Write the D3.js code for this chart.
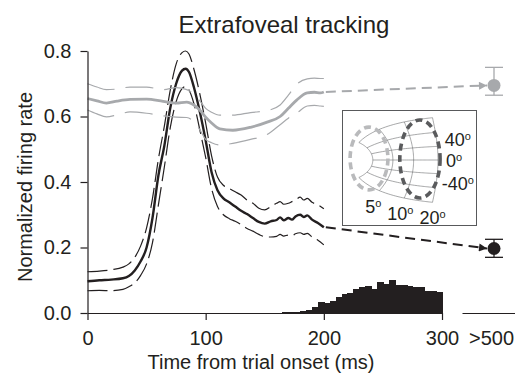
<!DOCTYPE html>
<html>
<head>
<meta charset="utf-8">
<script src="https://cdn.jsdelivr.net/npm/d3@7"></script>
<style>
  body { margin: 0; background: #fff; }
  svg { display: block; font-family: "Liberation Sans", Arial, sans-serif; }
</style>
</head>
<body>
<div id="chart"></div>
<script>
// ---- data ----
// response to the target in the SC response field (black) and away from it (gray)
const blackTime  = [0, 10, 20, 30, 35, 40, 45, 50, 55, 60, 65, 70, 75, 80, 83, 86, 90, 95, 100, 105, 110, 115, 120, 125, 130, 135, 140, 145, 150, 155, 160, 163, 166, 170, 173, 176, 180, 183, 186, 190, 195, 200];
const blackMean  = [0.097, 0.100, 0.102, 0.106, 0.113, 0.130, 0.158, 0.200, 0.290, 0.420, 0.510, 0.625, 0.700, 0.740, 0.746, 0.735, 0.690, 0.615, 0.527, 0.430, 0.375, 0.350, 0.338, 0.325, 0.312, 0.302, 0.290, 0.278, 0.273, 0.280, 0.284, 0.292, 0.283, 0.290, 0.285, 0.295, 0.300, 0.293, 0.298, 0.285, 0.275, 0.262];
const blackUpper = [0.126, 0.128, 0.132, 0.140, 0.150, 0.170, 0.205, 0.260, 0.350, 0.470, 0.570, 0.680, 0.760, 0.795, 0.800, 0.790, 0.745, 0.670, 0.580, 0.480, 0.415, 0.390, 0.380, 0.370, 0.360, 0.345, 0.335, 0.320, 0.315, 0.325, 0.335, 0.340, 0.332, 0.335, 0.340, 0.345, 0.354, 0.345, 0.350, 0.338, 0.330, 0.318];
const blackLower = [0.068, 0.069, 0.068, 0.072, 0.080, 0.092, 0.115, 0.150, 0.215, 0.330, 0.445, 0.565, 0.645, 0.685, 0.692, 0.680, 0.640, 0.560, 0.475, 0.380, 0.325, 0.300, 0.288, 0.280, 0.270, 0.258, 0.250, 0.240, 0.233, 0.232, 0.234, 0.240, 0.235, 0.238, 0.236, 0.242, 0.245, 0.240, 0.243, 0.232, 0.222, 0.208];

const grayTime  = [0, 8, 16, 25, 36, 50, 64, 75, 84, 90, 95, 100, 105, 112, 123, 138, 152, 163, 170, 177, 186, 192, 197, 200];
const grayMean  = [0.655, 0.648, 0.641, 0.647, 0.652, 0.653, 0.646, 0.641, 0.644, 0.635, 0.620, 0.598, 0.580, 0.562, 0.558, 0.567, 0.583, 0.600, 0.625, 0.650, 0.672, 0.674, 0.672, 0.675];
const grayUpper = [0.700, 0.690, 0.682, 0.684, 0.690, 0.690, 0.682, 0.688, 0.682, 0.668, 0.648, 0.625, 0.613, 0.604, 0.604, 0.612, 0.618, 0.635, 0.665, 0.698, 0.715, 0.717, 0.716, 0.716];
const grayLower = [0.620, 0.608, 0.599, 0.605, 0.614, 0.610, 0.602, 0.598, 0.597, 0.584, 0.560, 0.530, 0.520, 0.513, 0.518, 0.530, 0.545, 0.575, 0.595, 0.610, 0.632, 0.634, 0.632, 0.631];

// late (>500 ms) mean and error bar
const lateLabel  = ">500";
const lateGray   = { mean: 0.695, lo: 0.665, hi: 0.750 };
const lateBlack  = { mean: 0.197, lo: 0.170, hi: 0.225 };

// distribution of trial times (5 ms bins, left edges)
const histStart = [165, 170, 175, 180, 185, 190, 195, 200, 205, 210, 215, 220, 225, 230, 235, 240, 245, 250, 255, 260, 265, 270, 275, 280, 285, 290, 295];
const histValue = [0.002, 0.003, 0.004, 0.006, 0.009, 0.017, 0.033, 0.030, 0.038, 0.050, 0.058, 0.062, 0.073, 0.080, 0.083, 0.073, 0.095, 0.090, 0.100, 0.085, 0.086, 0.082, 0.078, 0.080, 0.068, 0.067, 0.064];
const histBin = 5;

const xTicks = [0, 100, 200, 300];
const yTicks = [0, 0.2, 0.4, 0.6, 0.8];

// inset: SC map grid
const insetEcc = [2, 5, 10, 20];
const insetDir = [-90, -60, -30, 0, 30, 60, 90];
const eccLabels = [5, 10, 20];
const eccShift = [-6, -4, 0];
const dirLabels = [40, 0, -40];
const dirShift = [4, 7, 12];
// response fields in map units (mm)
const rfFields = [
  { u: 0.59, v: 0.09, ru: 0.62, rv: 1.90, color: "#b9babc" },
  { u: 2.26, v: 0.06, ru: 0.66, rv: 2.36, color: "#5a5b5d" }
];

// ---- layout ----
const width = 515, height = 376;
const ink = "#231f20", grey = "#a7a9ac";

const svg = d3.select("#chart").append("svg")
    .attr("width", width)
    .attr("height", height);

const x = d3.scaleLinear().domain([0, 300]).range([87.5, 442]);
const y = d3.scaleLinear().domain([0, 0.8]).range([313, 51]);
const xb = d3.scalePoint().domain([lateLabel]).range([462, 526]);

// arrow heads
const defs = svg.append("defs");
[["gray", grey], ["black", ink]].forEach(([name, col]) => {
    defs.append("marker")
        .attr("id", "arrow-" + name)
        .attr("viewBox", "0 0 10 10")
        .attr("refX", 10).attr("refY", 5)
        .attr("markerWidth", 9).attr("markerHeight", 8)
        .attr("markerUnits", "userSpaceOnUse")
        .attr("orient", "auto")
        .append("path")
        .attr("d", "M0,0L10,5L0,10z")
        .attr("fill", col);
});

// histogram
svg.append("g").attr("shape-rendering", "crispEdges").selectAll("rect")
    .data(histStart)
    .join("rect")
    .attr("x", d => x(d))
    .attr("width", d => x(d + histBin) - x(d) + 1)
    .attr("y", (d, i) => y(histValue[i]))
    .attr("height", (d, i) => y(0) - y(histValue[i]))
    .attr("fill", ink);

const line = d3.line()
    .x(d => x(d[0]))
    .y(d => y(d[1]))
    .curve(d3.curveMonotoneX);

function drawSeries(times, mean, upper, lower, col, meanWidth, dash) {
    const g = svg.append("g").attr("fill", "none").attr("stroke", col);
    [upper, lower].forEach(arr => {
        g.append("path")
            .attr("d", line(times.map((t, i) => [t, arr[i]])))
            .attr("stroke-width", 1.2)
            .attr("stroke-dasharray", dash);
    });
    g.append("path")
        .attr("d", line(times.map((t, i) => [t, mean[i]])))
        .attr("stroke-width", meanWidth);
}

drawSeries(blackTime, blackMean, blackUpper, blackLower, ink, 2.4, "20,6");
drawSeries(grayTime, grayMean, grayUpper, grayLower, grey, 2.8, "28,11");

// dashed arrows to the late points and the late points themselves
const dotR = 6.5;
[[grayTime, grayMean, lateGray, grey, "gray"], [blackTime, blackMean, lateBlack, ink, "black"]]
    .forEach(([times, mean, late, col, name]) => {
        const x0 = x(times[times.length - 1]), y0 = y(mean[mean.length - 1]);
        const x1 = xb(lateLabel) - dotR - 0.5, y1 = y(late.mean);
        svg.append("line")
            .attr("x1", x0 + 2).attr("y1", y0)
            .attr("x2", x1).attr("y2", y1)
            .attr("stroke", col)
            .attr("stroke-width", 2)
            .attr("stroke-dasharray", "10,6")
            .attr("marker-end", "url(#arrow-" + name + ")");
        const cx = xb(lateLabel);
        const eb = svg.append("g").attr("stroke", col).attr("stroke-width", 1.3);
        eb.append("line").attr("x1", cx).attr("x2", cx).attr("y1", y(late.lo)).attr("y2", y(late.hi));
        eb.append("line").attr("x1", cx - 9).attr("x2", cx + 9).attr("y1", y(late.lo)).attr("y2", y(late.lo));
        eb.append("line").attr("x1", cx - 9).attr("x2", cx + 9).attr("y1", y(late.hi)).attr("y2", y(late.hi));
        svg.append("circle")
            .attr("cx", cx).attr("cy", y(late.mean)).attr("r", dotR)
            .attr("fill", col);
    });

// axes
function styleAxis(g) {
    g.selectAll("path, line").attr("stroke", ink).attr("stroke-width", 1.2);
    g.selectAll("text").attr("fill", ink).style("font-size", "20px")
        .style("font-family", "'Liberation Sans', Arial, sans-serif");
}

svg.append("g")
    .attr("transform", "translate(87.5,0)")
    .call(d3.axisLeft(y).tickValues(yTicks).tickFormat(d3.format(".1f"))
        .tickSize(7).tickPadding(9).tickSizeOuter(0))
    .call(styleAxis);

svg.append("g")
    .attr("transform", "translate(0,313)")
    .call(d3.axisBottom(x).tickValues(xTicks).tickSize(7).tickPadding(11).tickSizeOuter(0))
    .call(styleAxis);

svg.append("g")
    .attr("transform", "translate(0,313)")
    .call(d3.axisBottom(xb).tickSize(0).tickPadding(18).tickSizeOuter(0))
    .call(styleAxis)
    .selectAll("text").attr("dx", "-3");

// labels
svg.append("text")
    .attr("x", 284).attr("y", 33)
    .attr("text-anchor", "middle")
    .attr("fill", ink)
    .style("font-size", "24px")
    .text("Extrafoveal tracking");

svg.append("text")
    .attr("x", 261).attr("y", 369)
    .attr("text-anchor", "middle")
    .attr("fill", ink)
    .style("font-size", "20px")
    .text("Time from trial onset (ms)");

svg.append("text")
    .attr("transform", "translate(32,187) rotate(-90)")
    .attr("text-anchor", "middle")
    .attr("fill", ink)
    .style("font-size", "20px")
    .text("Normalized firing rate");

// ---- inset: SC map with the two response fields ----
const A = 3, Bu = 1.4, Bv = 1.8;
function scMap(ecc, dir) {
    const p = dir * Math.PI / 180;
    const u = Bu * Math.log(Math.sqrt(ecc * ecc + 2 * A * ecc * Math.cos(p) + A * A) / A);
    const v = Bv * Math.atan(ecc * Math.sin(p) / (ecc * Math.cos(p) + A));
    return [u, v];
}
const ix = d3.scaleLinear().domain([0, scMap(20, 0)[0]]).range([351, 438]);
const vMax = scMap(20, 90)[1];
const iy = d3.scaleLinear().domain([-vMax, vMax]).range([202.3, 117.7]);

const inset = svg.append("g");
inset.append("rect")
    .attr("x", 342.5).attr("y", 110.5)
    .attr("width", 134).attr("height", 115)
    .attr("fill", "#fff")
    .attr("stroke", "#58595b")
    .attr("stroke-width", 1);

const mapLine = d3.line().x(d => ix(d[0])).y(d => iy(d[1]));
const grid = inset.append("g").attr("fill", "none").attr("stroke", "#6d6e71").attr("stroke-width", 0.6);
insetEcc.forEach(e => {
    grid.append("path").attr("d", mapLine(d3.range(-90, 90.01, 3).map(p => scMap(e, p))));
});
insetDir.forEach(p => {
    grid.append("path").attr("d", mapLine(d3.range(insetEcc[0], 20.01, 0.5).map(e => scMap(e, p))));
});

inset.append("g").selectAll("ellipse")
    .data(rfFields)
    .join("ellipse")
    .attr("cx", d => ix(d.u))
    .attr("cy", d => iy(d.v))
    .attr("rx", d => ix(d.u + d.ru) - ix(d.u))
    .attr("ry", d => iy(d.v - d.rv) - iy(d.v))
    .attr("fill", "none")
    .attr("stroke", d => d.color)
    .attr("stroke-width", 3.6)
    .attr("stroke-dasharray", "7,4.5");

function degLabel(sel, txt) {
    sel.append("tspan").text(txt);
    sel.append("tspan").attr("dy", "-0.55em").style("font-size", "11px").text("o");
}

eccLabels.forEach((e, i) => {
    const [u, v] = scMap(e, -90);
    const t = inset.append("text")
        .attr("x", ix(u) + eccShift[i]).attr("y", iy(v) + 22)
        .attr("text-anchor", "middle")
        .attr("fill", ink)
        .style("font-size", "18px");
    degLabel(t, String(e));
});

dirLabels.forEach((p, i) => {
    const [u, v] = scMap(20, p);
    const t = inset.append("text")
        .attr("x", ix(u) + (p < 0 ? 5 : 8)).attr("y", iy(v) + dirShift[i])
        .attr("fill", ink)
        .style("font-size", "18px");
    degLabel(t, String(p));
});
</script>
</body>
</html>
